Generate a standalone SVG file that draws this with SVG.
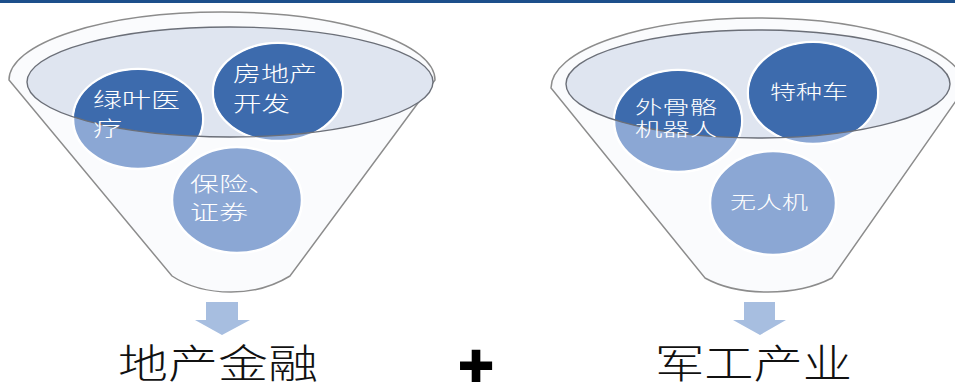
<svg xmlns="http://www.w3.org/2000/svg" width="955" height="383" viewBox="0 0 955 383">
<style>
.funnel{fill:#fafbfd;stroke:#8c8c8c;stroke-width:1.5}
.rim{fill:#dfe5f0;stroke:none}
.rimline{fill:none;stroke:#6b6f78;stroke-width:1.4}
.light{fill:#8ba7d4;stroke:#ffffff;stroke-width:2.5}
.dark{fill:#3d6bad}
.ct{fill:#ffffff;font-family:"Noto Sans CJK SC","Noto Sans",sans-serif;font-weight:300}
.lbl{fill:#111111;font-family:"Noto Sans CJK SC","Noto Sans",sans-serif;font-size:40px;font-weight:300}
.arrow{fill:#a7bee0}
</style>
<defs>
<clipPath id="clipL"><ellipse cx="230" cy="82" rx="203" ry="55"/></clipPath>
<clipPath id="clipR"><ellipse cx="758" cy="84" rx="192" ry="54"/></clipPath>
</defs>
<rect x="0" y="0" width="955" height="3" fill="#1c4f8b"/>

<g id="funnel-left">
<path class="funnel" d="M9,80 A213,68 0 0 1 435,80 L290,276 Q264,292 231,292 Q196,292 172,276 Z"/>
<ellipse class="rim" cx="230" cy="82" rx="203" ry="55"/>
</g>
<g id="node-lvye">
<ellipse class="light" cx="138" cy="119" rx="65" ry="50"/>
<ellipse class="dark" cx="138" cy="119" rx="64" ry="49" clip-path="url(#clipL)"/>
</g>
<g id="node-fangdichan">
<ellipse class="light" cx="278" cy="92" rx="65" ry="49"/>
<ellipse class="dark" cx="278" cy="92" rx="64" ry="48" clip-path="url(#clipL)"/>
</g>
<g id="node-baoxian">
<ellipse class="light" cx="237" cy="200" rx="65" ry="53"/>
</g>
<ellipse class="rimline" cx="230" cy="82" rx="203" ry="55"/>
<g id="labels-left">
<text class="ct" x="93" y="106.5" font-size="21" textLength="87" lengthAdjust="spacingAndGlyphs">绿叶医</text>
<text class="ct" x="93" y="135.5" font-size="21" textLength="29" lengthAdjust="spacingAndGlyphs">疗</text>
<text class="ct" x="233" y="80.5" font-size="21" textLength="84" lengthAdjust="spacingAndGlyphs">房地产</text>
<text class="ct" x="233" y="110.5" font-size="21" textLength="57" lengthAdjust="spacingAndGlyphs">开发</text>
<text class="ct" x="190" y="191.5" font-size="20" textLength="87" lengthAdjust="spacingAndGlyphs">保险、</text>
<text class="ct" x="190" y="220" font-size="20" textLength="58" lengthAdjust="spacingAndGlyphs">证券</text>
</g>

<g id="funnel-right">
<path class="funnel" d="M551,88 A207,70 0 0 1 965,88 L832,278 Q805,292 768,292 Q730,292 705,278 Z"/>
<ellipse class="rim" cx="758" cy="84" rx="192" ry="54"/>
</g>
<g id="node-waiguge">
<ellipse class="light" cx="678" cy="121" rx="64" ry="51"/>
<ellipse class="dark" cx="678" cy="121" rx="63" ry="50" clip-path="url(#clipR)"/>
</g>
<g id="node-tezhongche">
<ellipse class="light" cx="813" cy="93" rx="65" ry="51"/>
<ellipse class="dark" cx="813" cy="93" rx="64" ry="50" clip-path="url(#clipR)"/>
</g>
<g id="node-wurenji">
<ellipse class="light" cx="773" cy="203" rx="63" ry="52"/>
</g>
<ellipse class="rimline" cx="758" cy="84" rx="192" ry="54"/>
<g id="labels-right">
<text class="ct" x="635" y="113.5" font-size="18" textLength="82" lengthAdjust="spacingAndGlyphs">外骨骼</text>
<text class="ct" x="635" y="136" font-size="18" textLength="82" lengthAdjust="spacingAndGlyphs">机器人</text>
<text class="ct" x="770" y="98.5" font-size="19" textLength="78" lengthAdjust="spacingAndGlyphs">特种车</text>
<text class="ct" x="730" y="209" font-size="18" textLength="78" lengthAdjust="spacingAndGlyphs">无人机</text>
</g>

<g id="connectors">
<polygon class="arrow" points="206,302 238,302 238,320 250,320 222,335 195,320 206,320"/>
<polygon class="arrow" points="744,302 775,302 775,320 786,320 760,335 733,320 744,320"/>
</g>

<g id="result-left"><text class="lbl" x="118" y="378" textLength="200" lengthAdjust="spacingAndGlyphs">地产金融</text></g>
<g id="plus"><text x="476" y="365" dominant-baseline="central" text-anchor="middle" font-family="'Liberation Sans',Arial,sans-serif" font-weight="bold" font-size="60" fill="#000" stroke="#000" stroke-width="2">+</text></g>
<g id="result-right"><text class="lbl" x="655" y="378" textLength="197" lengthAdjust="spacingAndGlyphs">军工产业</text></g>
</svg>
